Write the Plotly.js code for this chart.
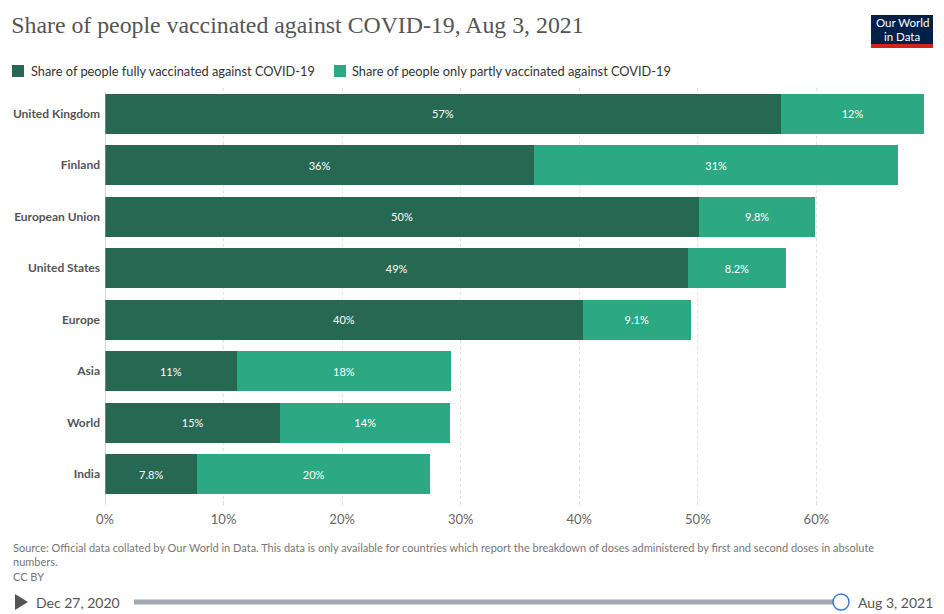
<!DOCTYPE html>
<html><head><meta charset="utf-8">
<script src="https://cdn.plot.ly/plotly-3.0.1.min.js"></script>
<style>html,body{margin:0;padding:0;background:#fff;}#chart{width:944px;height:614px;}</style>
</head><body><div id="chart"></div>
<script>
var countries = ["United Kingdom","Finland","European Union","United States","Europe","Asia","World","India"];
var fullyVaccinated = [57.0, 36.2, 50.1, 49.2, 40.3, 11.1, 14.8, 7.8];
var partlyVaccinated = [12.1, 30.7, 9.8, 8.2, 9.1, 18.1, 14.3, 19.6];
var seriesNames = ["Share of people fully vaccinated against COVID-19","Share of people only partly vaccinated against COVID-19"];
var xTickVals = [0,10,20,30,40,50,60];
var xTickText = ["0%","10%","20%","30%","40%","50%","60%"];

function fmt(v){ return Number(v.toPrecision(2)) + "%"; }

// plot area in pixels
var L = 105, R = 15, T = 88, B = 114, W = 944, H = 614;
var pw = W - L - R, ph = H - T - B;
function px(X){ return (X - L) / pw; }
function py(Y){ return (H - B - Y) / ph; }

var darkGreen = "#276852", lightGreen = "#2ca883";
var traces = [
 {type:"bar", orientation:"h", name:seriesNames[0],
  y:countries, x:fullyVaccinated, text:fullyVaccinated.map(fmt), textposition:"inside", insidetextanchor:"middle",
  textfont:{family:"Lato", size:11, color:"#fff"}, marker:{color:darkGreen, line:{width:0}}, hoverinfo:"skip"},
 {type:"bar", orientation:"h", name:seriesNames[1],
  y:countries, x:partlyVaccinated, text:partlyVaccinated.map(fmt), textposition:"inside", insidetextanchor:"middle",
  textfont:{family:"Lato", size:11, color:"#fff"}, marker:{color:lightGreen, line:{width:0}}, hoverinfo:"skip"}
];
function txt(X, Y, s, size, color, anchor, extra){
  var a = {xref:"paper", yref:"paper", x:px(X), y:py(Y), xanchor:anchor||"left", yanchor:"middle", showarrow:false, text:s,
    font:{family:"Lato", size:size, color:color}};
  if (extra) for (var k in extra) a[k] = extra[k];
  return a;
}
var layout = {
 width:W, height:H, barmode:"stack", bargap:0.22,
 margin:{l:L, r:R, t:T, b:B},
 paper_bgcolor:"#fff", plot_bgcolor:"#fff",
 font:{family:"Lato", color:"#555"},
 showlegend:false,
 title:{text:"Share of people vaccinated against COVID-19, Aug 3, 2021", x:0.012, xanchor:"left", xref:"container",
   y:1-25/614, yref:"container", yanchor:"middle", font:{family:"Liberation Serif, DejaVu Serif, serif", size:23.8, color:"#555"}},
 xaxis:{range:[0,69.5], tickvals:xTickVals, ticktext:xTickText, showgrid:true, gridcolor:"#e2e2e2", griddash:"3px,3px", gridwidth:1,
   zeroline:false, ticks:"outside", ticklen:4, tickcolor:"#ddd", ticklabelstandoff:3, tickfont:{family:"Lato", size:13, color:"#666"}, fixedrange:true},
 yaxis:{autorange:"reversed", tickfont:{family:"Lato", size:12, color:"#555", weight:700}, ticks:"", ticklabelstandoff:4, showline:false, fixedrange:true},
 shapes:[
  {type:"line", xref:"x", yref:"paper", x0:0, x1:0, y0:py(500), y1:py(92), line:{color:"#aaa", width:1}},
  // legend squares
  {type:"rect", xref:"paper", yref:"paper", x0:px(12), x1:px(24), y0:py(77), y1:py(65), fillcolor:darkGreen, line:{width:0}},
  {type:"rect", xref:"paper", yref:"paper", x0:px(334), x1:px(346), y0:py(77), y1:py(65), fillcolor:lightGreen, line:{width:0}},
  // logo
  {type:"rect", xref:"paper", yref:"paper", x0:px(871), x1:px(933), y0:py(44), y1:py(15), fillcolor:"#002147", line:{width:0}},
  {type:"rect", xref:"paper", yref:"paper", x0:px(871), x1:px(933), y0:py(48), y1:py(44), fillcolor:"#ce261e", line:{width:0}},
  // slider
  {type:"path", xref:"paper", yref:"paper", path:"M "+px(15)+" "+py(594)+" L "+px(28)+" "+py(602)+" L "+px(15)+" "+py(610)+" Z", fillcolor:"#555", line:{width:0}},
  {type:"line", xref:"paper", yref:"paper", x0:px(134), x1:px(835), y0:py(602), y1:py(602), line:{color:"#a2a7b0", width:5}},
  {type:"circle", xref:"paper", yref:"paper", x0:px(833), x1:px(849), y0:py(610), y1:py(594), fillcolor:"#fff", line:{color:"#3a7be0", width:1.5}}
 ],
 annotations:[
  txt(29, 71, seriesNames[0], 12.8, "#333"),
  txt(350, 71, seriesNames[1], 12.8, "#333"),
  txt(902, 22, "Our World", 11.5, "#fff", "center"),
  txt(902, 36, "in Data", 11.5, "#fff", "center"),
  txt(11, 539, "Source: Official data collated by Our World in Data. This data is only available for countries which report the breakdown of doses administered by first and second doses in absolute<br>numbers.<br>CC BY", 11, "#777", "left", {yanchor:"top", align:"left"}),
  txt(34, 602, "Dec 27, 2020", 14, "#555"),
  txt(856, 602, "Aug 3, 2021", 14, "#555")
 ]
};
Plotly.newPlot("chart", traces, layout, {displayModeBar:false, staticPlot:true});
</script></body></html>
